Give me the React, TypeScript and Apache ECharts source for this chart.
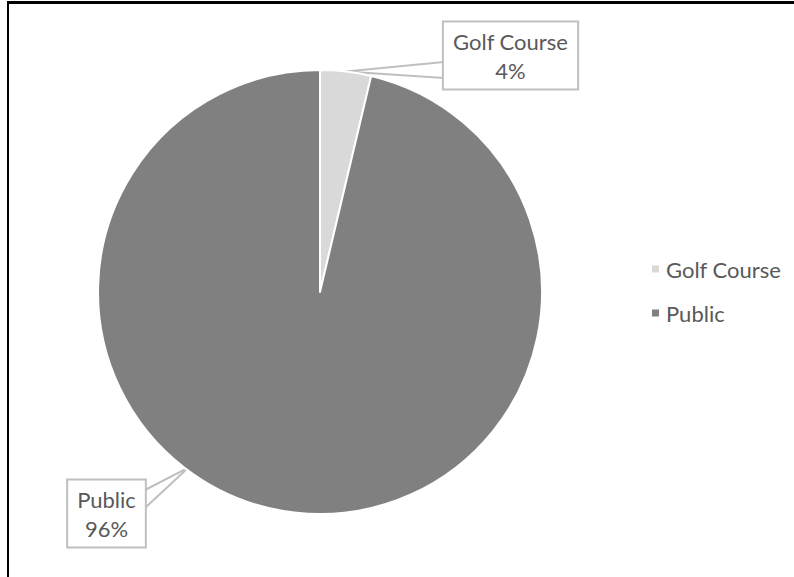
import React, { useEffect, useRef } from "react";
import * as echarts from "echarts";

const categories = ["Golf Course", "Public"];
const values = [3.7, 96.3];
const colors = ["#d9d9d9", "#808080"];

const CX = 320;
const CY = 292;
const R = 222;

function edgePoint(angleFromTopDeg: number, r: number) {
  const a = (angleFromTopDeg * Math.PI) / 180;
  return [CX + r * Math.sin(a), CY - r * Math.cos(a)];
}

export default function App() {
  const ref = useRef<HTMLDivElement>(null);
  useEffect(() => {
    document.body.style.margin = "0";
    const chart = echarts.init(ref.current!, null, { renderer: "svg" });
    const total = values.reduce((s, v) => s + v, 0);
    const golfMid = ((values[0] / total) * 360) / 2;
    chart.setOption({
      animation: false,
      backgroundColor: "#ffffff",
      textStyle: { fontFamily: "Lato" },
      graphic: [
        { type: "rect", shape: { x: 7, y: 1, width: 787, height: 3 }, style: { fill: "#000" }, silent: true },
        { type: "rect", shape: { x: 7, y: 1, width: 2, height: 576 }, style: { fill: "#000" }, silent: true },
      ],
      legend: {
        orient: "vertical",
        left: 645,
        top: 253,
        itemWidth: 9,
        itemHeight: 9,
        itemGap: 22,
        icon: "rect",
        textStyle: { fontFamily: "Lato", fontSize: 22, color: "#595959", padding: [0, 0, 0, 1] },
        data: categories,
      },
      series: [
        {
          type: "pie",
          center: [CX, CY],
          radius: R,
          startAngle: 90,
          clockwise: true,
          percentPrecision: 0,
          itemStyle: { borderColor: "#ffffff", borderWidth: 2 },
          label: {
            show: true,
            position: "outside",
            formatter: "{b}\n{d}%",
            fontFamily: "Lato",
            fontSize: 22,
            lineHeight: 29,
            color: "#595959",
            align: "center",
            backgroundColor: "#ffffff",
            borderColor: "#bfbfbf",
            borderWidth: 2,
            padding: [4, 9, 4, 9],
          },
          labelLine: { show: true, lineStyle: { color: "#bfbfbf", width: 2 } },
          labelLayout: (p: any) => {
            if (p.dataIndex === 0) {
              const tip = edgePoint(golfMid, R);
              const bx = 444;
              return {
                x: 510.5,
                y: 55.5,
                align: "center",
                verticalAlign: "middle",
                labelLinePoints: [[bx, 62], tip, [bx, 78]],
              };
            }
            const tip = edgePoint(216.9, 220);
            const bx = 145;
            return {
              x: 106.5,
              y: 513.5,
              align: "center",
              verticalAlign: "middle",
              labelLinePoints: [[bx, 490], tip, [bx, 508]],
            };
          },
          data: categories.map((c, i) => ({ name: c, value: values[i], itemStyle: { color: colors[i] } })),
        },
      ],
    });
    return () => chart.dispose();
  }, []);
  return <div ref={ref} style={{ width: 794, height: 577 }} />;
}
